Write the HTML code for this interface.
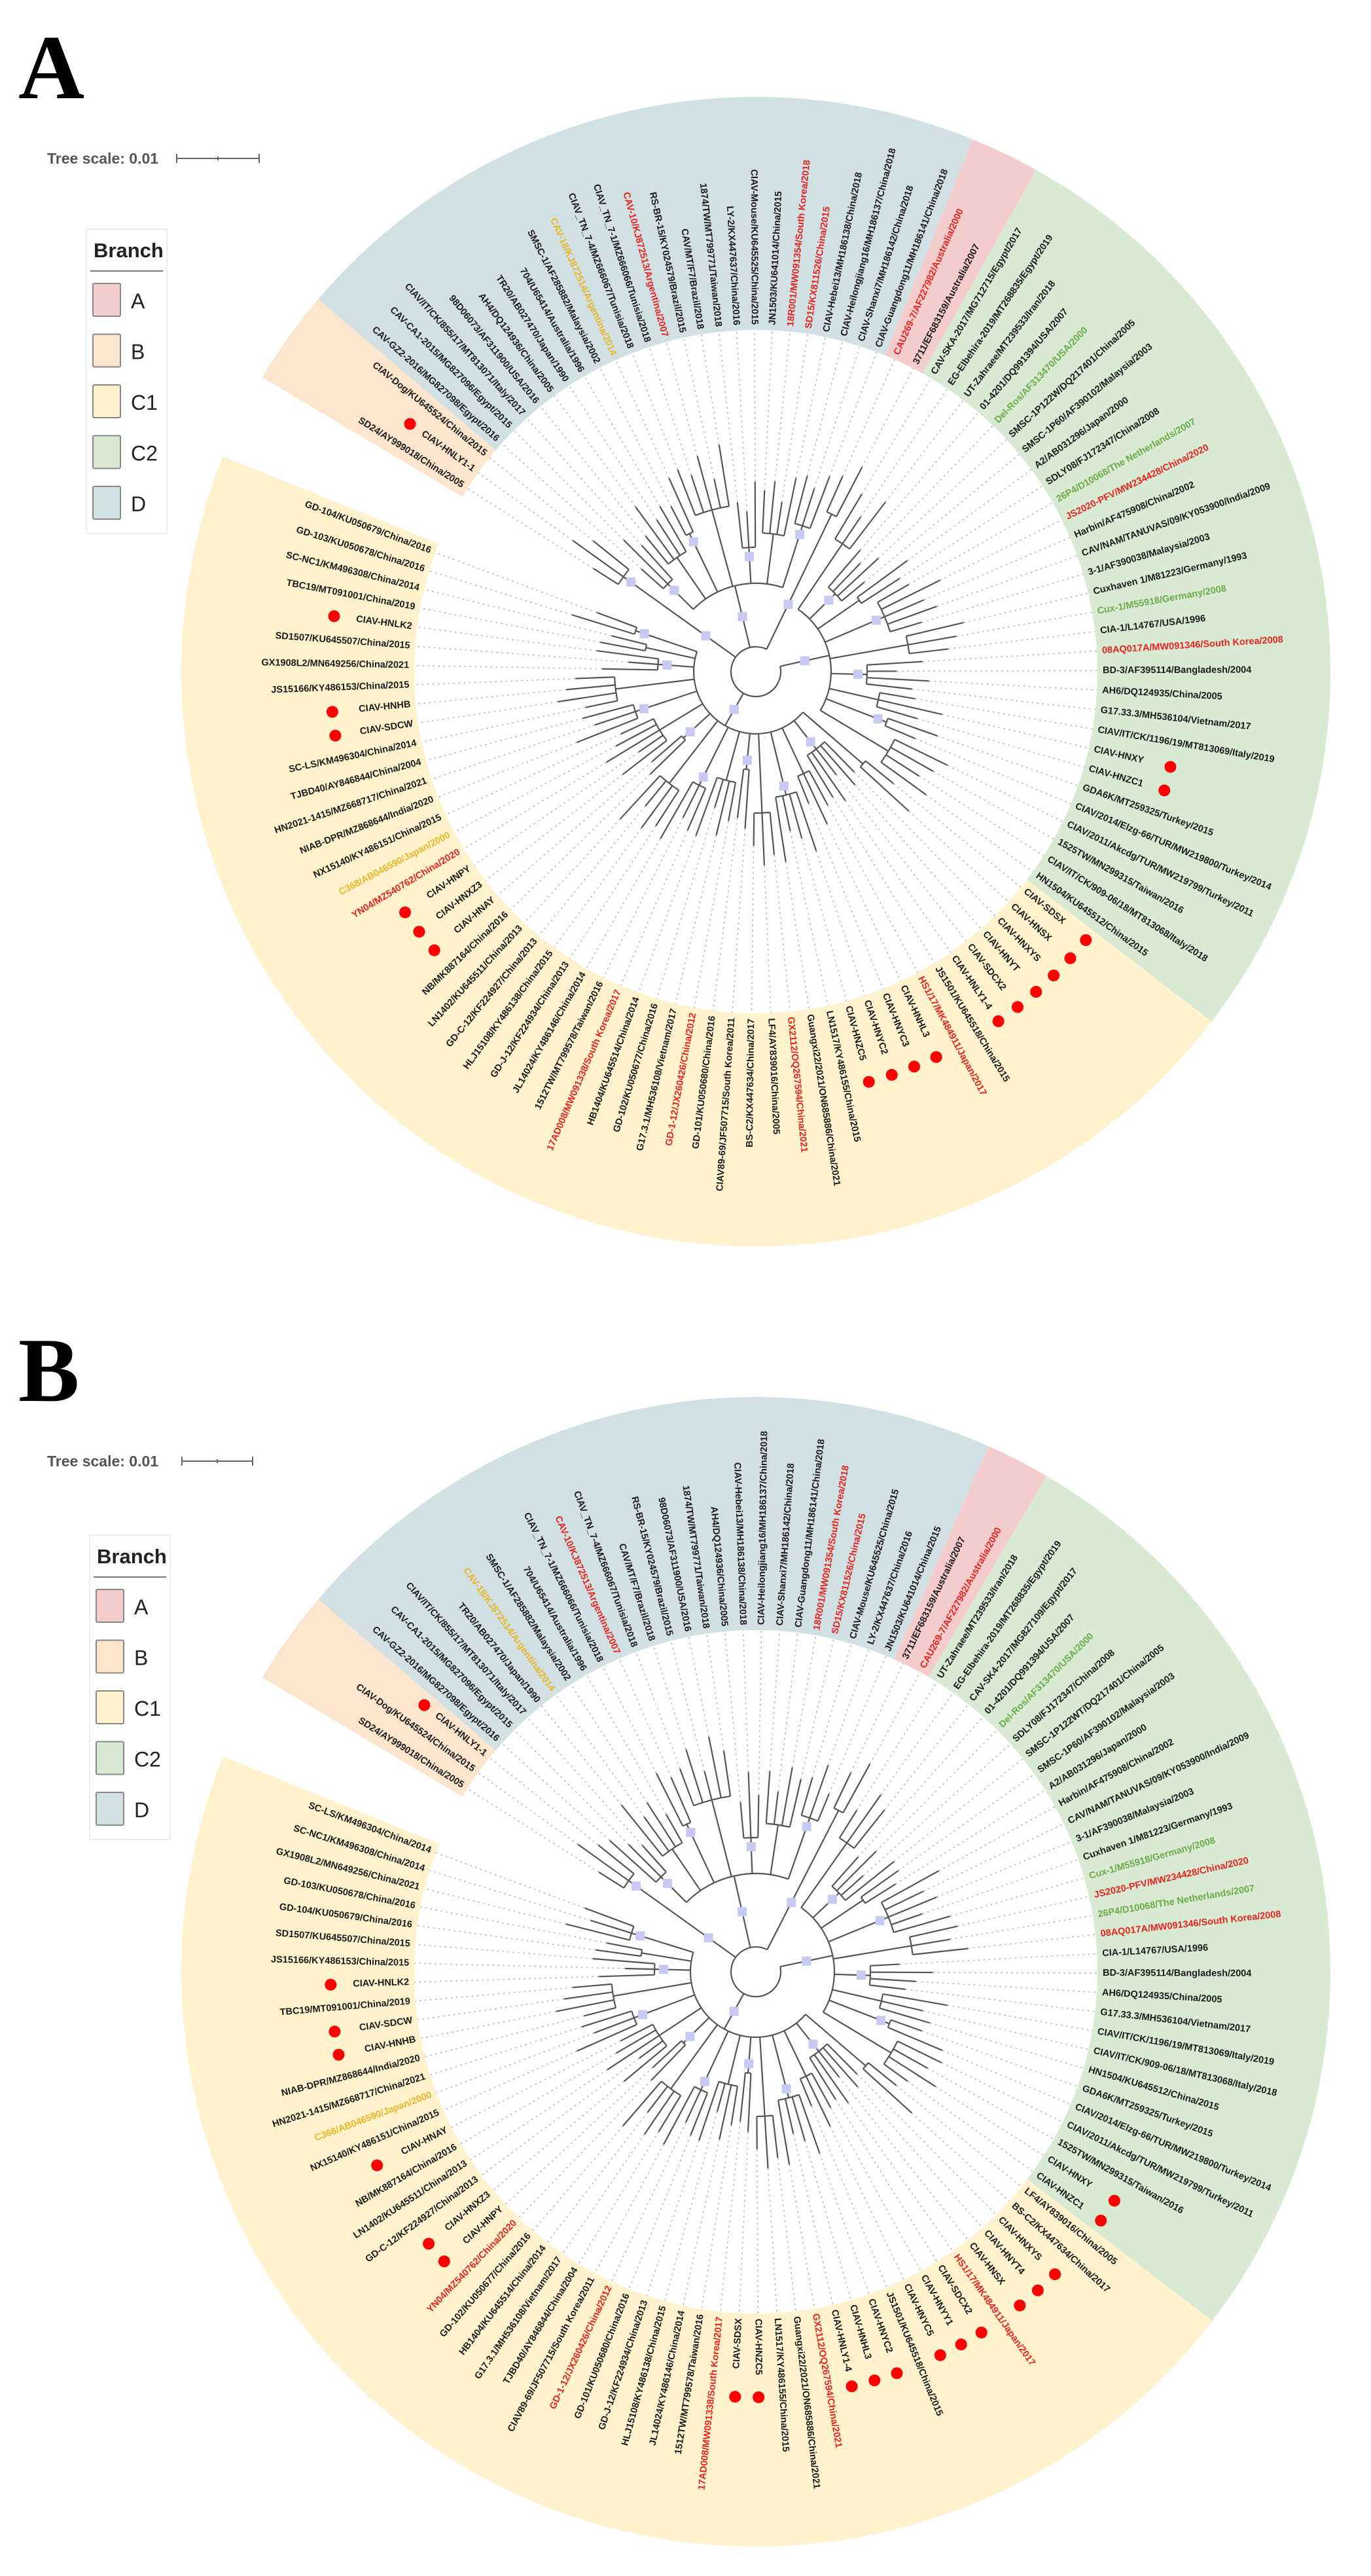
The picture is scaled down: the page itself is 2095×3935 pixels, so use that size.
<!DOCTYPE html>
<html>
<head>
<meta charset="utf-8">
<style>
html,body{margin:0;padding:0;background:#fff;}
svg{display:block;}
text{font-family:"Liberation Sans",sans-serif;}
</style>
</head>
<body>
<svg id="fig" xmlns="http://www.w3.org/2000/svg" width="2095" height="3935" viewBox="0 0 2095 3935">
  <rect x="0" y="0" width="2095" height="3935" fill="#fff"/>
  <!-- Panel A header -->
  <g>
    <text x="28" y="150" font-family="Liberation Serif, serif" font-weight="bold" font-size="140" style="font-family:'Liberation Serif',serif">A</text>
    <text x="72" y="250" font-size="23" font-weight="bold" fill="#555">Tree scale: 0.01</text>
    <g stroke="#666" stroke-width="2">
      <line x1="270" y1="242" x2="396" y2="242"/><line x1="270" y1="235" x2="270" y2="249"/><line x1="396" y1="235" x2="396" y2="249"/><line x1="333" y1="239" x2="333" y2="245"/>
    </g>
  </g>
  <g id="legendA"></g>
  <g id="panelA"></g>
  <!-- Panel B header -->
  <g>
    <text x="28" y="2140" font-weight="bold" font-size="140" style="font-family:'Liberation Serif',serif">B</text>
    <text x="72" y="2240" font-size="23" font-weight="bold" fill="#555">Tree scale: 0.01</text>
    <g stroke="#666" stroke-width="2">
      <line x1="278" y1="2232" x2="386" y2="2232"/><line x1="278" y1="2225" x2="278" y2="2239"/><line x1="386" y1="2225" x2="386" y2="2239"/><line x1="332" y1="2229" x2="332" y2="2235"/>
    </g>
  </g>
  <g id="legendB"></g>
  <g id="panelB"></g>
</svg>
<script>
// ---------- data ----------
const branchNames = ["A","B","C1","C2","D"];
const branchColors = {A:"#f4cccc",B:"#fce5cd",C1:"#fff2cc",C2:"#d9ead3",D:"#d0e0e3"};
// clade angular ranges (degrees clockwise from top)
const rangesA = {C2:[29.2,127.5], C1:[127.5,292], B:[300.8,310.4], D:[310.4,382.2], A:[382.2,389.2]};
const rangesB = {C2:[30.4,127.4], C1:[127.4,292], B:[300.8,310.4], D:[310.4,383.9], A:[383.9,390.4]};
// label prefixes: r| red, g| green, y| yellow, d| red dot marker
const labelsA_C2 = ["CAV-SKA-2017/MG712715/Egypt/2017","EG-Elbehira-2019/MT268835/Egypt/2019","UT-Zahraee/MT239533/Iran/2018","01-4201/DQ991394/USA/2007","g|Del-Ros/AF313470/USA/2000","SMSC-1P122W/DQ217401/China/2005","SMSC-1P60/AF390102/Malaysia/2003","A2/AB031296/Japan/2000","SDLY08/FJ172347/China/2008","g|26P4/D10068/The Netherlands/2007","r|JS2020-PFV/MW234428/China/2020","Harbin/AF475908/China/2002","CAV/NAM/TANUVAS/09/KY053900/India/2009","3-1/AF390038/Malaysia/2003","Cuxhaven 1/M81223/Germany/1993","g|Cux-1/M55918/Germany/2008","CIA-1/L14767/USA/1996","r|08AQ017A/MW091346/South Korea/2008","BD-3/AF395114/Bangladesh/2004","AH6/DQ124935/China/2005","G17.33.3/MH536104/Vietnam/2017","CIAV/IT/CK/1196/19/MT813069/Italy/2019","d|CIAV-HNXY","d|CIAV-HNZC1","GDA6K/MT259325/Turkey/2015","CIAV/2014/Elzg-66/TUR/MW219800/Turkey/2014","CIAV/2011/Akcdg/TUR/MW219799/Turkey/2011","1525TW/MN299315/Taiwan/2016","CIAV/IT/CK/909-06/18/MT813068/Italy/2018","HN1504/KU645512/China/2015"];
const labelsA_C1 = ["d|CIAV-SDSX","d|CIAV-HNSX","d|CIAV-HNXYS","d|CIAV-HNYT","d|CIAV-SDCX2","d|CIAV-HNLY1-4","JS1501/KU645518/China/2015","r|HS1/17/MK484911/Japan/2017","d|CIAV-HNHL3","d|CIAV-HNYC3","d|CIAV-HNYC2","d|CIAV-HNZC5","LN1517/KY486155/China/2015","Guangxi22/2021/ON685886/China/2021","r|GX2112/OQ267594/China/2021","LF4/AY839016/China/2005","BS-C2/KX447634/China/2017","CIAV89-69/JF507715/South Korea/2011","GD-101/KU050680/China/2016","r|GD-1-12/JX260426/China/2012","G17.3.1/MH536108/Vietnam/2017","GD-102/KU050677/China/2016","HB1404/KU645514/China/2014","r|17AD008/MW091338/South Korea/2017","1512TW/MT799578/Taiwan/2016","JL14024/KY486146/China/2014","GD-J-12/KF224934/China/2013","HLJ15108/KY486138/China/2015","GD-C-12/KF224927/China/2013","LN1402/KU645511/China/2013","NB/MK887164/China/2016","d|CIAV-HNAY","d|CIAV-HNXZ3","d|CIAV-HNPY","r|YN04/MZ540762/China/2020","y|C368/AB046590/Japan/2000","NX15140/KY486151/China/2015","NIAB-DPR/MZ868644/India/2020","HN2021-1415/MZ668717/China/2021","TJBD40/AY846844/China/2004","SC-LS/KM496304/China/2014","d|CIAV-SDCW","d|CIAV-HNHB","JS15166/KY486153/China/2015","GX1908L2/MN649256/China/2021","SD1507/KU645507/China/2015","d|CIAV-HNLK2","TBC19/MT091001/China/2019","SC-NC1/KM496308/China/2014","GD-103/KU050678/China/2016","GD-104/KU050679/China/2016"];
const labelsA_B = ["SD24/AY999018/China/2005","d|CIAV-HNLY1-1","CIAV-Dog/KU645524/China/2015"];
const labelsA_D = ["CAV-GZ2-2016/MG827098/Egypt/2016","CAV-CA1-2015/MG827096/Egypt/2015","CIAV/IT/CK/855/17/MT813071/Italy/2017","98D06073/AF311900/USA/2016","AH4/DQ124936/China/2005","TR20/AB027470/Japan/1990","704/U65414/Australia/1996","SMSC-1/AF285882/Malaysia/2002","y|CAV-18/KJ872514/Argentina/2014","CIAV_TN_7-4/MZ666067/Tunisia/2018","CIAV_TN_7-1/MZ666066/Tunisia/2018","r|CAV-10/KJ872513/Argentina/2007","RS-BR-15/KY024579/Brazil/2015","CAV/MT/F7/Brazil/2018","1874/TW/MT799771/Taiwan/2018","LY-2/KX447637/China/2016","CIAV-Mouse/KU645525/China/2015","JN1503/KU641014/China/2015","r|18R001/MW091354/South Korea/2018","r|SD15/KX811526/China/2015","CIAV-Hebei13/MH186138/China/2018","CIAV-Heilongjiang16/MH186137/China/2018","CIAV-Shanxi7/MH186142/China/2018","CIAV-Guangdong11/MH186141/China/2018"];
const labelsA_A = ["r|CAU269-7/AF227982/Australia/2000","3711/EF683159/Australia/2007"];

const labelsB_D = ["CAV-GZ2-2016/MG827098/Egypt/2016","CAV-CA1-2015/MG827096/Egypt/2015","CIAV/IT/CK/855/17/MT813071/Italy/2017","TR20/AB027470/Japan/1990","y|CAV-18/KJ872514/Argentina/2014","SMSC-1/AF285882/Malaysia/2002","704/U65414/Australia/1996","CIAV_TN_7-1/MZ666066/Tunisia/2018","r|CAV-10/KJ872513/Argentina/2007","CIAV_TN_7-4/MZ666067/Tunisia/2018","CAV/MT/F7/Brazil/2018","RS-BR-15/KY024579/Brazil/2015","98D06073/AF311900/USA/2016","1874/TW/MT799771/Taiwan/2018","AH4/DQ124936/China/2005","CIAV-Hebei13/MH186138/China/2018","CIAV-Heilongjiang16/MH186137/China/2018","CIAV-Shanxi7/MH186142/China/2018","CIAV-Guangdong11/MH186141/China/2018","r|18R001/MW091354/South Korea/2018","r|SD15/KX811526/China/2015","CIAV-Mouse/KU645525/China/2015","LY-2/KX447637/China/2016","JN1503/KU641014/China/2015"];
const labelsB_A = ["3711/EF683159/Australia/2007","r|CAU269-7/AF227982/Australia/2000"];
const labelsB_C2 = ["UT-Zahraee/MT239533/Iran/2018","EG-Elbehira-2019/MT268835/Egypt/2019","CAV-SK4-2017/MG827109/Egypt/2017","01-4201/DQ991394/USA/2007","g|Del-Ros/AF313470/USA/2000","SDLY08/FJ172347/China/2008","SMSC-1P122WT/DQ217401/China/2005","SMSC-1P60/AF390102/Malaysia/2003","A2/AB031296/Japan/2000","Harbin/AF475908/China/2002","CAV/NAM/TANUVAS/09/KY053900/India/2009","3-1/AF390038/Malaysia/2003","Cuxhaven 1/M81223/Germany/1993","g|Cux-1/M55918/Germany/2008","r|JS2020-PFV/MW234428/China/2020","g|26P4/D10068/The Netherlands/2007","r|08AQ017A/MW091346/South Korea/2008","CIA-1/L14767/USA/1996","BD-3/AF395114/Bangladesh/2004","AH6/DQ124935/China/2005","G17.33.3/MH536104/Vietnam/2017","CIAV/IT/CK/1196/19/MT813069/Italy/2019","CIAV/IT/CK/909-06/18/MT813068/Italy/2018","HN1504/KU645512/China/2015","GDA6K/MT259325/Turkey/2015","CIAV/2014/Elzg-66/TUR/MW219800/Turkey/2014","CIAV/2011/Akcdg/TUR/MW219799/Turkey/2011","1525TW/MN299315/Taiwan/2016","d|CIAV-HNXY","d|CIAV-HNZC1"];
const labelsB_C1 = ["LF4/AY839016/China/2005","BS-C2/KX447634/China/2017","d|CIAV-HNXYS","d|CIAV-HNYT4","d|CIAV-HNSX","r|HS1/17/MK484911/Japan/2017","d|CIAV-SDCX2","d|CIAV-HNYY1","d|CIAV-HNYC5","JS1501/KU645518/China/2015","d|CIAV-HNYC2","d|CIAV-HNHL3","d|CIAV-HNLY1-4","r|GX2112/OQ267594/China/2021","Guangxi22/2021/ON685886/China/2021","LN1517/KY486155/China/2015","d|CIAV-HNZC5","d|CIAV-SDSX","r|17AD008/MW091338/South Korea/2017","1512TW/MT799578/Taiwan/2016","JL14024/KY486146/China/2014","HLJ15108/KY486138/China/2015","GD-J-12/KF224934/China/2013","GD-101/KU050680/China/2016","r|GD-1-12/JX260426/China/2012","CIAV89-69/JF507715/South Korea/2011","TJBD40/AY846844/China/2004","G17.3.1/MH536108/Vietnam/2017","HB1404/KU645514/China/2014","GD-102/KU050677/China/2016","r|YN04/MZ540762/China/2020","d|CIAV-HNPY","d|CIAV-HNXZ3","GD-C-12/KF224927/China/2013","LN1402/KU645511/China/2013","NB/MK887164/China/2016","d|CIAV-HNAY","NX15140/KY486151/China/2015","y|C368/AB046590/Japan/2000","HN2021-1415/MZ668717/China/2021","NIAB-DPR/MZ868644/India/2020","d|CIAV-HNHB","d|CIAV-SDCW","TBC19/MT091001/China/2019","d|CIAV-HNLK2","JS15166/KY486153/China/2015","SD1507/KU645507/China/2015","GD-104/KU050679/China/2016","GD-103/KU050678/China/2016","GX1908L2/MN649256/China/2021","SC-NC1/KM496308/China/2014","SC-LS/KM496304/China/2014"];
const labelsB_B = ["SD24/AY999018/China/2005","CIAV-Dog/KU645524/China/2015","d|CIAV-HNLY1-1"];

// ---------- drawing ----------
const NS="http://www.w3.org/2000/svg";
const R_IN=522, R_OUT=878, R_LABEL=530, R_DOT=650;
function mk(tag, attrs, parent){const e=document.createElementNS(NS,tag);for(const k in attrs)e.setAttribute(k,attrs[k]);if(parent)parent.appendChild(e);return e;}
function pt(cx,cy,r,a){const t=a*Math.PI/180;return [cx+r*Math.sin(t), cy-r*Math.cos(t)];}
function arcPath(cx,cy,r,a1,a2){const p1=pt(cx,cy,r,a1),p2=pt(cx,cy,r,a2);const large=(a2-a1)>180?1:0;return `M${p1[0].toFixed(1)},${p1[1].toFixed(1)} A${r},${r} 0 ${large} 1 ${p2[0].toFixed(1)},${p2[1].toFixed(1)}`;}
function sector(cx,cy,r1,r2,a1,a2){const o1=pt(cx,cy,r2,a1),o2=pt(cx,cy,r2,a2),i2=pt(cx,cy,r1,a2),i1=pt(cx,cy,r1,a1);const large=(a2-a1)>180?1:0;return `M${o1[0]},${o1[1]} A${r2},${r2} 0 ${large} 1 ${o2[0]},${o2[1]} L${i2[0]},${i2[1]} A${r1},${r1} 0 ${large} 0 ${i1[0]},${i1[1]} Z`;}
const groupPattern=[3,4,2,5,3,4,3,2,4];
const tipPattern=[60,85,45,95,70,55,100,65,80,50,90,75];

function drawLegend(g, x0, y0){
  const box=mk('rect',{x:x0,y:y0,width:123,height:465,fill:'#fff',stroke:'#eee','stroke-width':2},g);
  
  const t=mk('text',{x:x0+11,y:y0+43,'font-size':31,'font-weight':'bold',fill:'#222'},g);t.textContent='Branch';
  
  mk('line',{x1:x0+6,y1:y0+64,x2:x0+117,y2:y0+64,stroke:'#777','stroke-width':2},g);
  branchNames.forEach((b,i)=>{
    const y=y0+83+i*77.5;
    const eg=mk('g',{},g);
    
    
    mk('rect',{x:x0+10,y:y,width:42,height:50,fill:branchColors[b],stroke:'#888','stroke-width':2,rx:2},eg);
    const lt=mk('text',{x:x0+68,y:y+38,'font-size':32,fill:'#222'},eg);lt.textContent=b;
  });
}

function drawPanel(g, cx, cy, ranges, labelSets, rcMap){
  // bands
  const bands=mk('g',{},g);
  
  for(const b of branchNames){
    const [a1,a2]=ranges[b];
    const p=mk('path',{d:sector(cx,cy,R_IN,R_OUT,a1,a2),fill:branchColors[b]},bands);
    
    
  }
  const dashG=mk('g',{stroke:'#bbb','stroke-width':1.6,'stroke-dasharray':'3 5',fill:'none'},g);
  
  const treeG=mk('g',{stroke:'#555','stroke-width':2.2,fill:'none'},g);
  
  const nodeG=mk('g',{fill:'#c8c8f4'},g);
  
  const labG=mk('g',{'font-size':14.5,'font-weight':'bold'},g);
  
  const dotG=mk('g',{fill:'#f00'},g);
  

  const r0=38; const cladeMids=[];
  let tipIdx=0, grpIdx=0;
  for(const b of branchNames){
    const labs=labelSets[b]; const [a1,a2]=ranges[b];
    const n=labs.length, step=(a2-a1)/n;
    const angles=labs.map((_,i)=>a1+step*(i+0.5));
    const rc=rcMap[b];
    // subgroups
    const subMids=[]; let i=0;
    while(i<n){
      let sz=groupPattern[grpIdx%groupPattern.length]; grpIdx++;
      if(i+sz>n) sz=n-i;
      const grp=angles.slice(i,i+sz);
      const rs=rc+55+(grpIdx%4)*22;
      if(sz>1) mk('path',{d:arcPath(cx,cy,rs,grp[0],grp[grp.length-1])},treeG);
      grp.forEach(a=>{
        const tip=rs+tipPattern[tipIdx%tipPattern.length]; tipIdx++;
        const p1=pt(cx,cy,rs,a),p2=pt(cx,cy,tip,a),p3=pt(cx,cy,R_IN,a);
        mk('line',{x1:p1[0],y1:p1[1],x2:p2[0],y2:p2[1]},treeG);
        mk('line',{x1:p2[0],y1:p2[1],x2:p3[0],y2:p3[1]},dashG);
      });
      const m=(grp[0]+grp[grp.length-1])/2; subMids.push(m);
      const pr=pt(cx,cy,rc,m),ps=pt(cx,cy,rs,m);
      mk('line',{x1:pr[0],y1:pr[1],x2:ps[0],y2:ps[1]},treeG);
      if(grpIdx%2===0){const q=pt(cx,cy,rs-14,m);mk('rect',{x:q[0]-7,y:q[1]-7,width:14,height:14},nodeG);}
      i+=sz;
    }
    if(subMids.length>1) mk('path',{d:arcPath(cx,cy,rc,subMids[0],subMids[subMids.length-1])},treeG);
    const cm=(subMids[0]+subMids[subMids.length-1])/2; cladeMids.push(cm);
    const q0=pt(cx,cy,r0,cm),q1=pt(cx,cy,rc,cm);
    mk('line',{x1:q0[0],y1:q0[1],x2:q1[0],y2:q1[1]},treeG);
    const qm=pt(cx,cy,(r0+rc)/2,cm);mk('rect',{x:qm[0]-7,y:qm[1]-7,width:14,height:14},nodeG);
    // labels
    labs.forEach((raw,k)=>{
      let col='#1a1a1a', txt=raw, dot=false;
      if(raw.startsWith('r|')){col='#e8231f';txt=raw.slice(2);}
      else if(raw.startsWith('g|')){col='#6aaa4a';txt=raw.slice(2);}
      else if(raw.startsWith('y|')){col='#eab525';txt=raw.slice(2);}
      else if(raw.startsWith('d|')){dot=true;txt=raw.slice(2);}
      const a=angles[k]; const an=((a%360)+360)%360;
      const p=pt(cx,cy,R_LABEL,a);
      const right = an<180;
      const rot = right ? an-90 : an+90;
      const t=mk('text',{x:p[0].toFixed(1),y:p[1].toFixed(1),fill:col,'text-anchor':right?'start':'end','dominant-baseline':'central',transform:`rotate(${rot.toFixed(2)} ${p[0].toFixed(1)} ${p[1].toFixed(1)})`},labG);
      t.textContent=txt;
      
      
      if(dot){
        const d=pt(cx,cy,R_DOT,a);
        const c=mk('circle',{cx:d[0].toFixed(1),cy:d[1].toFixed(1),r:9},dotG);
        
        
      }
    });
  }
  const mins=Math.min(...cladeMids), maxs=Math.max(...cladeMids);
  mk('path',{d:arcPath(cx,cy,r0,mins,maxs)},treeG);
}

drawLegend(document.getElementById('legendA'),132,350);
drawPanel(document.getElementById('panelA'),1155,1026,rangesA,
  {A:labelsA_A,B:labelsA_B,C1:labelsA_C1,C2:labelsA_C2,D:labelsA_D},
  {A:190,B:150,C1:95,C2:115,D:135});
drawLegend(document.getElementById('legendB'),137,2345);
drawPanel(document.getElementById('panelB'),1155,3012,rangesB,
  {A:labelsB_A,B:labelsB_B,C1:labelsB_C1,C2:labelsB_C2,D:labelsB_D},
  {A:200,B:140,C1:100,C2:120,D:150});
</script>
</body>
</html>
